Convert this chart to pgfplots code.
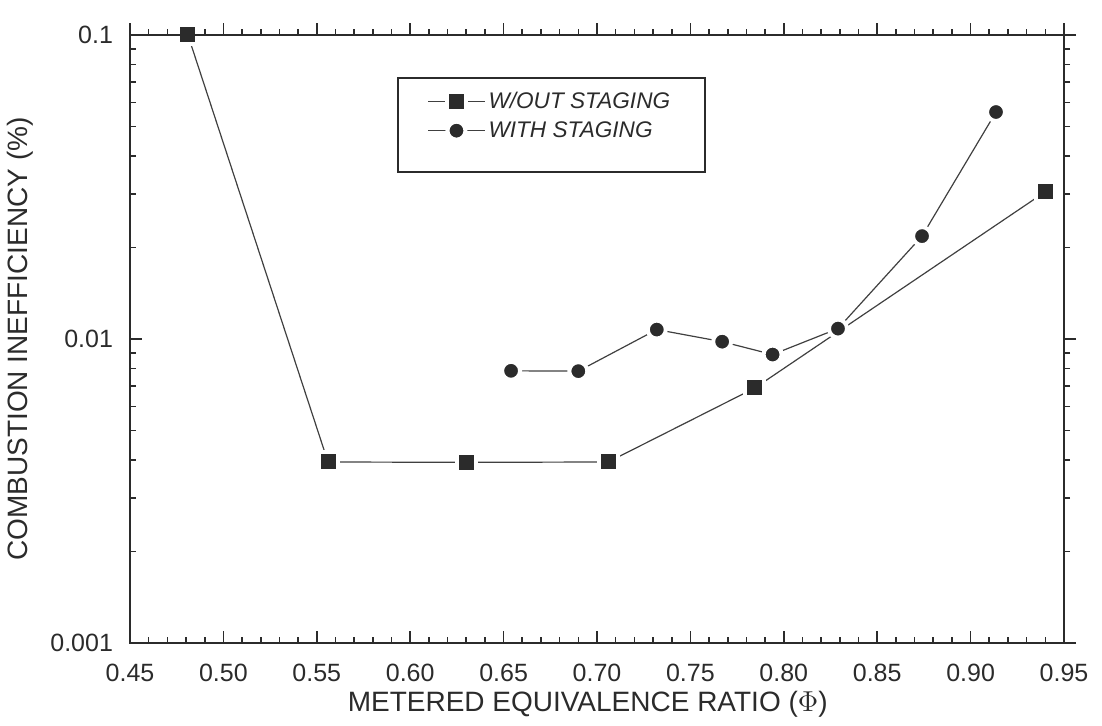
\documentclass[border=0pt]{standalone}
\usepackage{pgfplots}
\pgfplotsset{compat=1.18}
\usepackage{fontspec}
\setmainfont{Liberation Sans}
\definecolor{ink}{HTML}{2B2B2B}
\definecolor{lineink}{HTML}{404040}
\begin{document}
\begin{tikzpicture}
\useasboundingbox (-65pt,-41.5pt) rectangle (486pt,321.5pt);
\begin{axis}[
  scale only axis, width=467pt, height=304pt,
  xmin=0.45, xmax=0.95, ymode=log, ymin=0.001, ymax=0.1,
  axis line style={line width=1pt, ink},
  xtick={0.45,0.5,0.55,0.6,0.65,0.7,0.75,0.8,0.85,0.9,0.95},
  minor x tick num=4,
  ytick={0.001,0.01,0.1},
  major tick length=6pt, minor tick length=3pt,
  tick style={line width=0.8pt, ink},
  clip=false,
  xtick pos=bottom, ytick pos=left, tick align=inside,
  xticklabels={0.45,0.50,0.55,0.60,0.65,0.70,0.75,0.80,0.85,0.90,0.95},
  yticklabels={0.001,0.01,0.1},
  /pgf/number format/assume math mode=true,
  ticklabel style={font=\fontsize{12.5}{14}\selectfont, text=ink},
  xticklabel style={yshift=-7pt},
  yticklabel style={xshift=-5pt},
  xlabel={METERED EQUIVALENCE RATIO ($\Phi$)},
  ylabel={COMBUSTION INEFFICIENCY (\%)},
  label style={font=\fontsize{14}{16}\selectfont, text=ink},
  xlabel style={at={(axis description cs:0.49,-0.1)}, anchor=center},
  ylabel style={at={(axis description cs:-0.118,0.5)}, anchor=center},
  legend style={at={(rel axis cs:0.318,0.912)}, anchor=north west,
    draw=none, fill=none, inner xsep=0pt, inner ysep=0pt,
    nodes={inner sep=1.5pt},
    font=\itshape\fontsize{11.3}{13}\selectfont, text=ink, row sep=2pt},
  legend cell align=left,
  legend image code/.code={\draw[mark repeat=2,mark phase=2,#1] plot coordinates {(0cm,0cm) (0.5cm,0cm) (1cm,0cm)};},
]
\draw[ink, line width=1pt] (rel axis cs:0.287,0.929) rectangle (rel axis cs:0.6156,0.7747);
\addplot[lineink, line width=0.6pt, mark=square*, mark size=4.75pt,
  mark options={fill=ink, draw=white, line width=2pt}]
  coordinates {(0.481,0.1) (0.556,0.00394) (0.630,0.00393) (0.706,0.00394) (0.7845,0.0069) (0.940,0.0305)};
\addlegendentry{W/OUT STAGING}
\addplot[lineink, line width=0.6pt, mark=*, mark size=4.5pt,
  mark options={fill=ink, draw=white, line width=2pt}]
  coordinates {(0.654,0.00786) (0.690,0.00784) (0.732,0.01074) (0.767,0.0098) (0.794,0.00889) (0.829,0.01082) (0.874,0.0218) (0.9136,0.0558)};
\addlegendentry{WITH STAGING}
\end{axis}
\begin{axis}[
  scale only axis, width=467pt, height=304pt,
  xmin=0.45, xmax=0.95, ymode=log, ymin=0.001, ymax=0.1,
  axis line style={line width=1pt, ink},
  xtick={0.45,0.5,0.55,0.6,0.65,0.7,0.75,0.8,0.85,0.9,0.95},
  minor x tick num=4,
  ytick={0.001,0.01,0.1},
  major tick length=6pt, minor tick length=3pt,
  tick style={line width=0.8pt, ink},
  xtick pos=top, ytick pos=right, tick align=outside,
  xticklabels={}, yticklabels={},
]
\addplot[draw=none, mark=none] coordinates {(0.5,0.01) (0.9,0.05)};
\end{axis}
\end{tikzpicture}
\end{document}
